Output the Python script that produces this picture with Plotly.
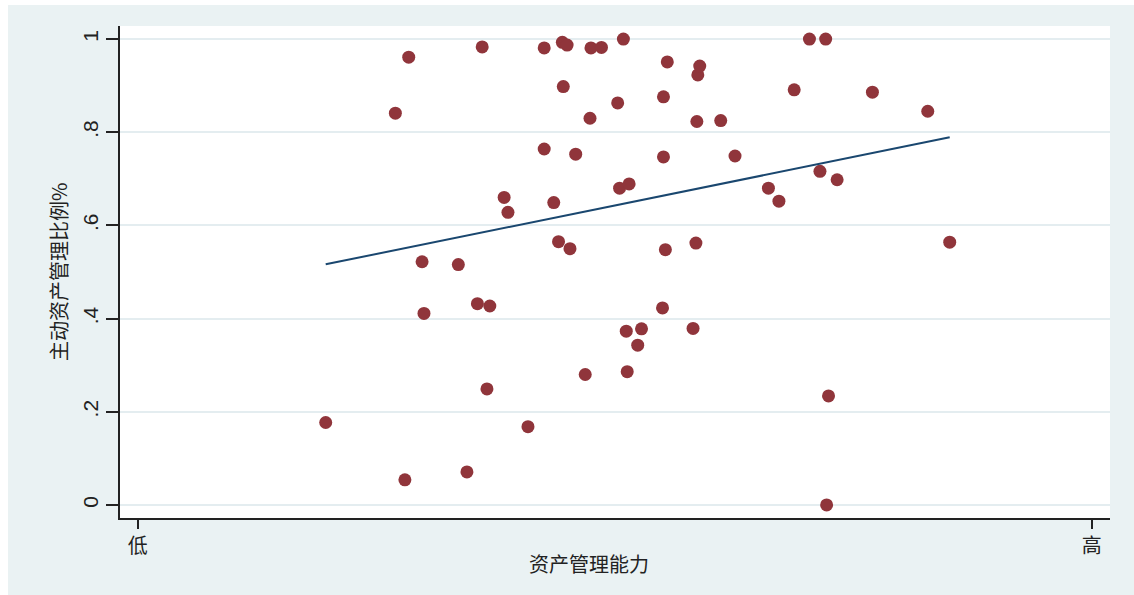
import numpy as np
import plotly.graph_objects as go

# Asset-management capability (0 = 低, 1 = 高) and share of actively managed assets
capability = [
    0.197, 0.270, 0.284, 0.280, 0.298, 0.300, 0.336, 0.345, 0.356, 0.361,
    0.369, 0.366, 0.384, 0.388, 0.409, 0.426, 0.426, 0.436, 0.441, 0.445,
    0.450, 0.446, 0.453, 0.459, 0.469, 0.474, 0.475, 0.486, 0.503, 0.505,
    0.509, 0.512, 0.513, 0.515, 0.524, 0.528, 0.550, 0.551, 0.551, 0.553,
    0.555, 0.582, 0.585, 0.587, 0.586, 0.589, 0.611, 0.626, 0.661, 0.672,
    0.688, 0.704, 0.715, 0.721, 0.724, 0.722, 0.733, 0.770, 0.828, 0.851,
]
active_share = [
    0.177, 0.841, 0.961, 0.054, 0.522, 0.411, 0.516, 0.071, 0.432, 0.983,
    0.427, 0.249, 0.660, 0.628, 0.168, 0.981, 0.764, 0.649, 0.565, 0.993,
    0.987, 0.898, 0.550, 0.753, 0.280, 0.830, 0.981, 0.982, 0.863, 0.680,
    1.000, 0.373, 0.286, 0.689, 0.343, 0.378, 0.423, 0.876, 0.747, 0.548,
    0.951, 0.379, 0.562, 0.923, 0.823, 0.942, 0.825, 0.749, 0.680, 0.652,
    0.891, 1.000, 0.716, 1.000, 0.234, 0.000, 0.698, 0.886, 0.845, 0.564,
]

y_ticks = [0, 0.2, 0.4, 0.6, 0.8, 1.0]
y_tick_labels = ["0", ".2", ".4", ".6", ".8", "1"]
x_ticks = [0, 1]
x_tick_labels = ["低", "高"]

# Linear fit over the observed range of capability
x_arr = np.array(capability)
y_arr = np.array(active_share)
slope, intercept = np.polyfit(x_arr, y_arr, 1)
fit_x = np.array([x_arr.min(), x_arr.max()])
fit_y = intercept + slope * fit_x

BG = "#EAF2F3"
GRID = "#E4EDF0"
MAROON = "#90353B"
NAVY = "#1A476F"
FONT = "Liberation Sans, Arial, Noto Sans CJK SC, sans-serif"

fig = go.Figure()
fig.add_trace(go.Scatter(
    x=capability, y=active_share, mode="markers",
    marker=dict(symbol="circle", size=13, color=MAROON, line=dict(width=0)),
    showlegend=False, hoverinfo="skip",
))
fig.add_trace(go.Scatter(
    x=fit_x, y=fit_y, mode="lines",
    line=dict(color=NAVY, width=2),
    showlegend=False, hoverinfo="skip",
))

fig.update_layout(
    width=1134, height=595,
    margin=dict(l=120, r=24, t=26, b=77),
    paper_bgcolor=BG, plot_bgcolor="white",
    font=dict(family=FONT, size=19, color="#222222"),
    xaxis=dict(
        range=[-0.0186, 1.019], tickmode="array",
        tickvals=x_ticks, ticktext=x_tick_labels,
        ticks="outside", ticklen=9, tickwidth=1.5, tickcolor="#222222",
        showgrid=False, zeroline=False,
        showline=True, linecolor="#222222", linewidth=1.5,
        tickfont=dict(size=20, family="Noto Sans CJK SC"),
    ),
    yaxis=dict(
        range=[-0.028, 1.028], tickmode="array",
        tickvals=y_ticks, ticktext=y_tick_labels, tickangle=-90,
        ticks="outside", ticklen=12, tickwidth=1.5, tickcolor="#222222",
        showgrid=True, gridcolor=GRID, gridwidth=2, zeroline=False,
        showline=True, linecolor="#222222", linewidth=1.5,
        tickfont=dict(size=21),
    ),
    annotations=[
        dict(text="主动资产管理比例%", xref="paper", yref="paper",
             x=-0.0626, y=0.5, xanchor="center", yanchor="middle",
             textangle=-90, showarrow=False,
             font=dict(size=20, family="Noto Sans CJK SC", color="#222222")),
        dict(text="资产管理能力", xref="paper", yref="paper",
             x=0.4737, y=-0.0915, xanchor="center", yanchor="middle",
             showarrow=False,
             font=dict(size=20, family="Noto Sans CJK SC", color="#222222")),
    ],
    shapes=[
        # thin white border along the left and top of the page
        dict(type="rect", xref="paper", yref="paper",
             x0=-0.13, x1=-0.1131, y0=-0.2, y1=1.1,
             fillcolor="white", line=dict(width=0), layer="below"),
        dict(type="rect", xref="paper", yref="paper",
             x0=-0.13, x1=1.1, y0=1.0427, y1=1.1,
             fillcolor="white", line=dict(width=0), layer="below"),
    ],
)

fig.write_html("out.html")
